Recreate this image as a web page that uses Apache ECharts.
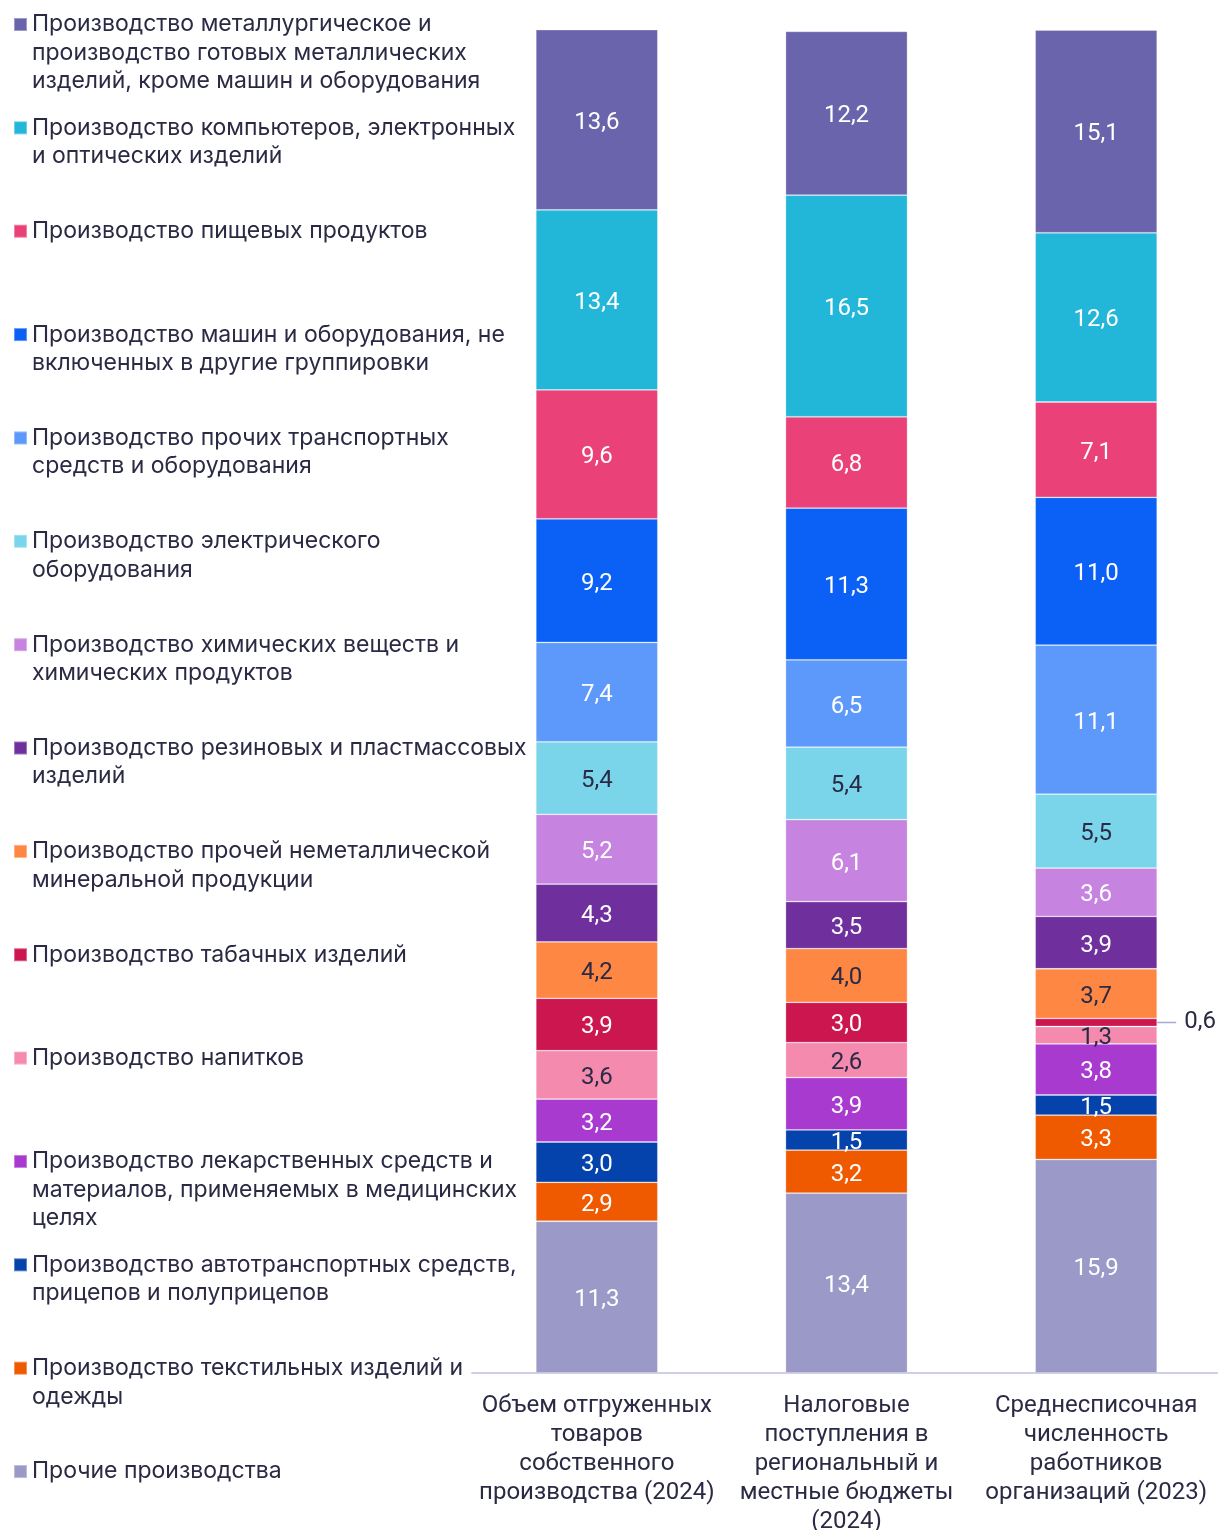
<!DOCTYPE html>
<html>
<head>
<meta charset="utf-8">
<script src="https://cdn.jsdelivr.net/npm/echarts@6/dist/echarts.min.js"></script>
<style>
  html, body { margin: 0; padding: 0; background: #ffffff; }
  #chart { width: 1218px; height: 1530px; }
</style>
</head>
<body>
<div id="chart"></div>
<script>
// Column categories
const categories = [
  'Объем отгруженных\nтоваров\nсобственного\nпроизводства (2024)',
  'Налоговые\nпоступления в\nрегиональный и\nместные бюджеты\n(2024)',
  'Среднесписочная\nчисленность\nработников\nорганизаций (2023)'
];

// Industries, listed top to bottom as in the legend (stacking goes the other way)
const industries = [
  'Производство металлургическое и\nпроизводство готовых металлических\nизделий, кроме машин и оборудования',
  'Производство компьютеров, электронных\nи оптических изделий',
  'Производство пищевых продуктов',
  'Производство машин и оборудования, не\nвключенных в другие группировки',
  'Производство прочих транспортных\nсредств и оборудования',
  'Производство электрического\nоборудования',
  'Производство химических веществ и\nхимических продуктов',
  'Производство резиновых и пластмассовых\nизделий',
  'Производство прочей неметаллической\nминеральной продукции',
  'Производство табачных изделий',
  'Производство напитков',
  'Производство лекарственных средств и\nматериалов, применяемых в медицинских\nцелях',
  'Производство автотранспортных средств,\nприцепов и полуприцепов',
  'Производство текстильных изделий и\nодежды',
  'Прочие производства'
];

// Shares, %, in the same industry order
const shipped = [13.6, 13.4, 9.6, 9.2, 7.4, 5.4, 5.2, 4.3, 4.2, 3.9, 3.6, 3.2, 3.0, 2.9, 11.3];
const taxes   = [12.2, 16.5, 6.8, 11.3, 6.5, 5.4, 6.1, 3.5, 4.0, 3.0, 2.6, 3.9, 1.5, 3.2, 13.4];
const staff   = [15.1, 12.6, 7.1, 11.0, 11.1, 5.5, 3.6, 3.9, 3.7, 0.6, 1.3, 3.8, 1.5, 3.3, 15.9];

// Segment colours, same order
const colors = [
  '#6a64ac', '#22b6d8', '#ea4178', '#0b60f6', '#5c99fb',
  '#7ad5ea', '#c683df', '#6f2f9d', '#ff8744', '#cc1650',
  '#f48aae', '#a83ad0', '#0443ab', '#ef5a00', '#9b99c7'
];
// Light segments get dark value labels
const darkText = [false, false, false, false, false, true, false, false, true, false, true, false, false, false, false];

const TEXT_DARK = '#2a2a44';
const fmt = v => v.toFixed(1).replace('.', ',');

const chart = echarts.init(document.getElementById('chart'), null, { renderer: 'canvas' });

// Series: bottom of the stack first
const series = [];
for (let i = industries.length - 1; i >= 0; i--) {
  const vals = [shipped[i], taxes[i], staff[i]];
  series.push({
    name: industries[i],
    type: 'bar',
    stack: 'total',
    barWidth: 122,
    itemStyle: { color: colors[i], borderColor: 'rgba(255,255,255,0.35)', borderWidth: 0.8 },
    label: {
      show: true,
      position: 'inside',
      offset: [0, 3],
      fontFamily: 'Roboto',
      fontSize: 24,
      color: darkText[i] ? TEXT_DARK : '#ffffff',
      formatter: p => fmt(p.value)
    },
    emphasis: { disabled: true },
    data: vals.map(v => v < 1 ? {
      value: v,
      label: {
        position: 'right',
        distance: 0,
        offset: [0, 0],
        formatter: '{l|}{v|' + fmt(v) + '}',
        rich: {
          l: { width: 19, height: 0, borderWidth: 1.5, borderColor: '#a9a8d0', verticalAlign: 'middle' },
          v: { fontFamily: 'Roboto', fontSize: 24, color: TEXT_DARK, padding: [0, 0, 0, 8] }
        }
      }
    } : v)
  });
}

// One legend block per industry so each entry starts on its own fixed row.
// Blank lines are put in front of the name so that the marker, which the
// legend centres on the text block, sits level with the first text line.
const LINE_H = 28.5;
const ROW_STEP = 103.36;
const legends = industries.map((name, i) => {
  const lines = name.split('\n').length;
  const firstLineCenter = 24.5 + i * ROW_STEP;
  return {
    left: 13,
    top: firstLineCenter - (2 * lines - 1) * LINE_H / 2,
    padding: 0,
    orient: 'vertical',
    icon: 'rect',
    itemWidth: 13,
    itemHeight: 13,
    selectedMode: false,
    data: [name],
    formatter: n => '\n'.repeat(lines - 1) + n,
    textStyle: {
      fontFamily: 'Inter',
      fontSize: 23,
      lineHeight: LINE_H,
      color: TEXT_DARK
    }
  };
});

chart.setOption({
  animation: false,
  backgroundColor: '#ffffff',
  legend: legends,
  grid: { left: 472, width: 749, top: 30, bottom: 157, containLabel: false, outerBoundsMode: 'none' },
  xAxis: {
    type: 'category',
    data: categories,
    axisTick: { show: false },
    axisLine: { lineStyle: { color: '#cfcfe6', width: 2 } },
    axisLabel: {
      interval: 0,
      margin: 18,
      fontFamily: 'Roboto',
      fontSize: 24,
      lineHeight: 29,
      color: TEXT_DARK,
      align: 'center'
    }
  },
  yAxis: { type: 'value', min: 0, max: 100, show: false },
  series: series
});
</script>
</body>
</html>
